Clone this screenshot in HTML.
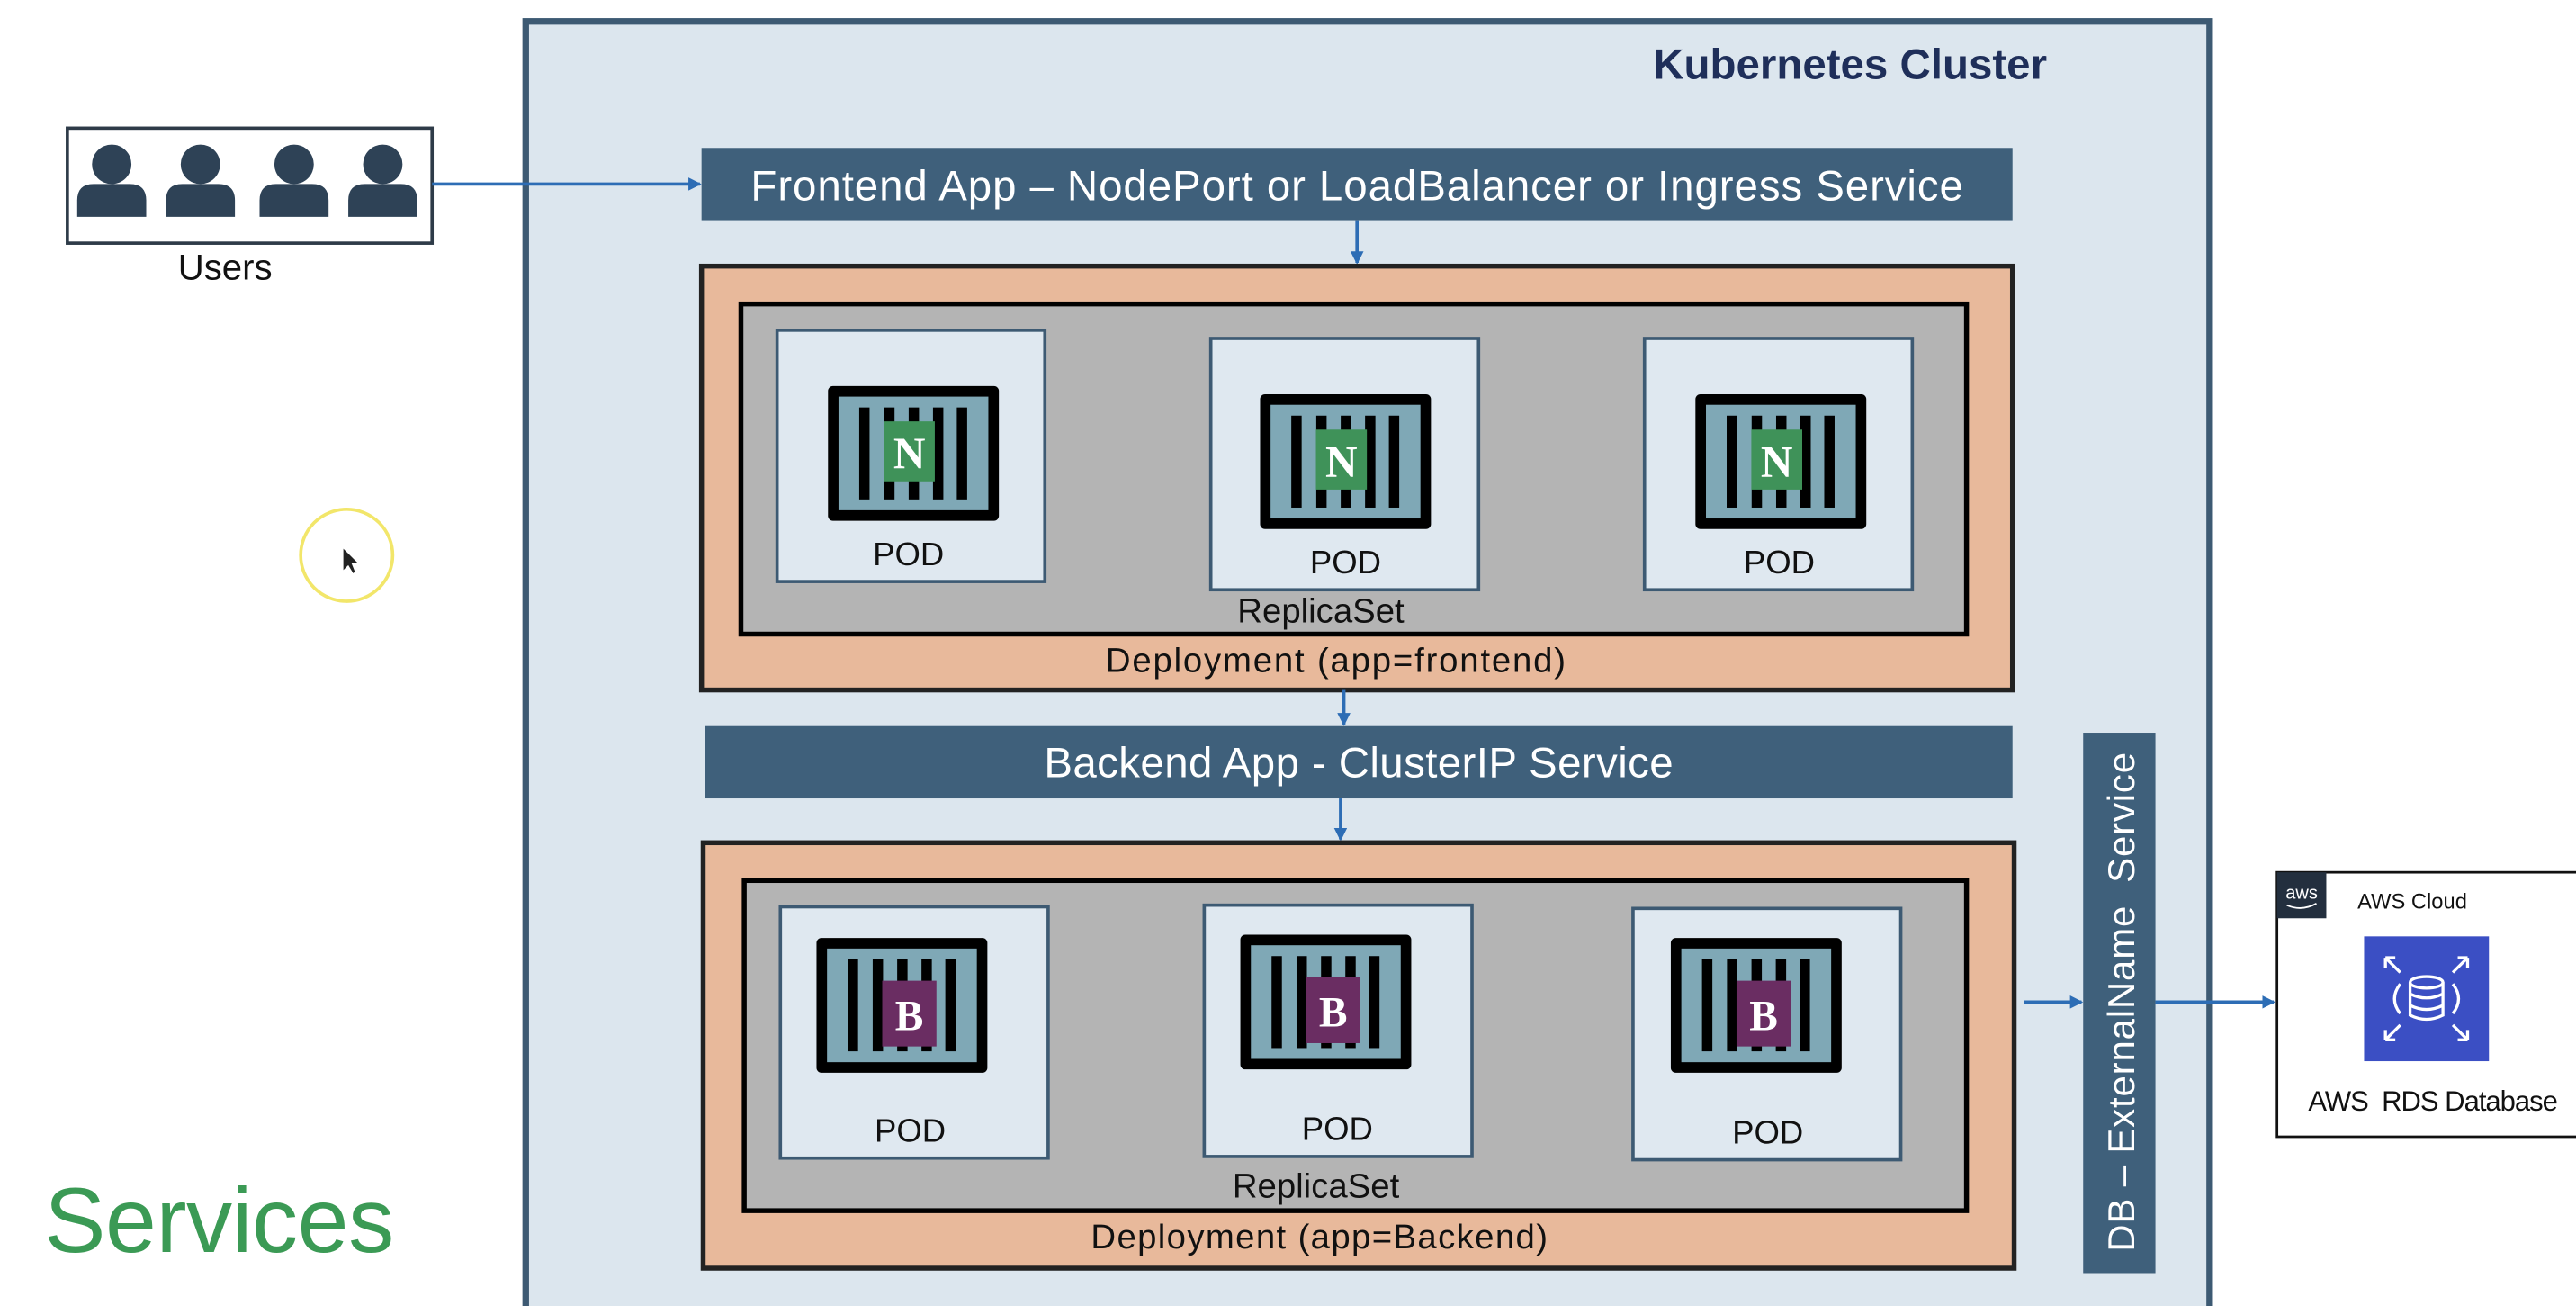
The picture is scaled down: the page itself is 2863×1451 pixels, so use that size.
<!DOCTYPE html>
<html><head><meta charset="utf-8"><style>
html,body{margin:0;padding:0;background:#fff;}
svg{display:block;}
text{font-family:"Liberation Sans",sans-serif;}
text.serif{font-family:"Liberation Serif",serif;}
</style></head><body>
<svg width="2863" height="1451" viewBox="0 0 1568 795" preserveAspectRatio="none" xmlns="http://www.w3.org/2000/svg">
<defs>
<g id="ctr">
<rect x="0" y="0" width="104" height="82" rx="3" fill="#000"/>
<rect x="6.4" y="6.4" width="91.2" height="69.2" fill="#7fa8b6"/>
<rect x="19" y="13" width="6.3" height="56" fill="#000"/>
<rect x="34.2" y="13" width="6.3" height="56" fill="#000"/>
<rect x="49.1" y="13" width="6.3" height="56" fill="#000"/>
<rect x="63.9" y="13" width="6.3" height="56" fill="#000"/>
<rect x="78.4" y="13" width="6.3" height="56" fill="#000"/>
</g>
<g id="person">
<circle cx="0" cy="-10" r="12" fill="#2e4256"/>
<path d="M-21 22 L-21 12 Q-21 2 -11 2 L11 2 Q21 2 21 12 L21 22 Z" fill="#2e4256"/>
</g>
<marker id="ar" markerWidth="8" markerHeight="8" refX="7" refY="4" orient="auto" markerUnits="userSpaceOnUse"><path d="M0 0 L8 4 L0 8 Z" fill="#2d6db5"/></marker>
</defs>

<rect x="320" y="13" width="1025" height="790" fill="#dce6ee" stroke="#3d5a73" stroke-width="4"/>
<text x="1246" y="48" text-anchor="end" font-size="26" font-weight="bold" fill="#1f2f5a">Kubernetes Cluster</text>

<rect x="41" y="78" width="222" height="70" fill="#fff" stroke="#2e3b48" stroke-width="2"/>
<use href="#person" x="68" y="110"/>
<use href="#person" x="122" y="110"/>
<use href="#person" x="179" y="110"/>
<use href="#person" x="233" y="110"/>
<text x="137" y="170" text-anchor="middle" font-size="22" fill="#111">Users</text>
<line x1="263" y1="112" x2="426" y2="112" stroke="#2d6db5" stroke-width="2" marker-end="url(#ar)"/>

<rect x="427" y="90" width="798" height="44" fill="#3f607b"/>
<text x="826" y="122" text-anchor="middle" font-size="26" fill="#fff" textLength="738">Frontend App – NodePort or LoadBalancer or Ingress Service</text>
<line x1="826" y1="134" x2="826" y2="160" stroke="#2d6db5" stroke-width="2" marker-end="url(#ar)"/>

<rect x="427" y="162" width="798" height="258" fill="#e8b99b" stroke="#222" stroke-width="3"/>
<rect x="451" y="185" width="746" height="201" fill="#b4b4b4" stroke="#000" stroke-width="3"/>
<rect x="473" y="201" width="163" height="153" fill="#dfe8f0" stroke="#3d5a73" stroke-width="2"/>
<rect x="737" y="206" width="163" height="153" fill="#dfe8f0" stroke="#3d5a73" stroke-width="2"/>
<rect x="1001" y="206" width="163" height="153" fill="#dfe8f0" stroke="#3d5a73" stroke-width="2"/>
<use href="#ctr" x="504" y="235"/>
<use href="#ctr" x="767" y="240"/>
<use href="#ctr" x="1032" y="240"/>
<rect x="538" y="256.5" width="31" height="36.5" fill="#3f9259"/>
<rect x="801" y="261.5" width="31" height="36.5" fill="#3f9259"/>
<rect x="1066" y="261.5" width="31" height="36.5" fill="#3f9259"/>
<g font-weight="bold" font-size="27" fill="#fff" text-anchor="middle">
<text class="serif" x="553.5" y="285">N</text><text class="serif" x="816.5" y="290">N</text><text class="serif" x="1081.5" y="290">N</text>
</g>
<g font-size="20" fill="#111" text-anchor="middle">
<text x="553" y="344">POD</text><text x="819" y="349">POD</text><text x="1083" y="349">POD</text>
<text x="804" y="379" font-size="21">ReplicaSet</text>
<text x="813" y="409" font-size="21" textLength="280">Deployment (app=frontend)</text>
</g>
<line x1="818" y1="420" x2="818" y2="441" stroke="#2d6db5" stroke-width="2" marker-end="url(#ar)"/>

<rect x="429" y="442" width="796" height="44" fill="#3f607b"/>
<text x="827" y="473" text-anchor="middle" font-size="26" fill="#fff" textLength="383">Backend App - ClusterIP Service</text>
<line x1="816" y1="486" x2="816" y2="511" stroke="#2d6db5" stroke-width="2" marker-end="url(#ar)"/>

<rect x="428" y="513" width="798" height="259" fill="#e8b99b" stroke="#222" stroke-width="3"/>
<rect x="453" y="536" width="744" height="201" fill="#b4b4b4" stroke="#000" stroke-width="3"/>
<rect x="475" y="552" width="163" height="153" fill="#dfe8f0" stroke="#3d5a73" stroke-width="2"/>
<rect x="733" y="551" width="163" height="153" fill="#dfe8f0" stroke="#3d5a73" stroke-width="2"/>
<rect x="994" y="553" width="163" height="153" fill="#dfe8f0" stroke="#3d5a73" stroke-width="2"/>
<use href="#ctr" x="497" y="571"/>
<use href="#ctr" x="755" y="569"/>
<use href="#ctr" x="1017" y="571"/>
<rect x="537" y="597" width="33" height="40" fill="#6a2d62"/>
<rect x="795" y="595" width="33" height="40" fill="#6a2d62"/>
<rect x="1057" y="597" width="33" height="40" fill="#6a2d62"/>
<g font-weight="bold" font-size="26" fill="#fff" text-anchor="middle">
<text class="serif" x="553.5" y="627">B</text><text class="serif" x="811.5" y="625">B</text><text class="serif" x="1073.5" y="627">B</text>
</g>
<g font-size="20" fill="#111" text-anchor="middle">
<text x="554" y="695">POD</text><text x="814" y="694">POD</text><text x="1076" y="696">POD</text>
<text x="801" y="729" font-size="21">ReplicaSet</text>
<text x="803" y="760" font-size="21" textLength="278">Deployment (app=Backend)</text>
</g>

<rect x="1268" y="446" width="44" height="329" fill="#3f607b"/>
<text transform="translate(1299,610) rotate(-90)" text-anchor="middle" font-size="23" fill="#fff" xml:space="preserve" textLength="304">DB – ExternalName  Service</text>
<line x1="1232" y1="610" x2="1267" y2="610" stroke="#2d6db5" stroke-width="2" marker-end="url(#ar)"/>
<line x1="1312" y1="610" x2="1384" y2="610" stroke="#2d6db5" stroke-width="2" marker-end="url(#ar)"/>

<rect x="1386" y="531" width="190" height="161" fill="#fff" stroke="#111" stroke-width="1.5"/>
<rect x="1386" y="531" width="30" height="28" fill="#232f3e"/>
<text x="1401" y="547" text-anchor="middle" font-size="11" fill="#fff">aws</text>
<path d="M1392 551 Q1401 555 1410 550" stroke="#fff" stroke-width="1" fill="none"/>
<text x="1435" y="553" font-size="13" fill="#111">AWS Cloud</text>
<rect x="1439" y="570" width="76" height="76" fill="#3b4fc4"/>
<g stroke="#fff" stroke-width="1.8" fill="none">
<ellipse cx="1477" cy="598" rx="10" ry="3.5"/>
<path d="M1467 598 V618 Q1477 623 1487 618 V598 M1467 605 Q1477 610 1487 605 M1467 612 Q1477 617 1487 612"/>
<path d="M1461 599 Q1454 608 1461 617 M1493 599 Q1500 608 1493 617"/>
<path d="M1452 583 L1461 592 M1452 583 h6 M1452 583 v6"/>
<path d="M1502 583 L1493 592 M1502 583 h-6 M1502 583 v6"/>
<path d="M1452 633 L1461 624 M1452 633 h6 M1452 633 v-6"/>
<path d="M1502 633 L1493 624 M1502 633 h-6 M1502 633 v-6"/>
</g>
<text x="1481" y="676" text-anchor="middle" font-size="17" fill="#111" xml:space="preserve" textLength="152">AWS  RDS Database</text>

<text x="27" y="762" font-size="56" fill="#3b9a55" textLength="213">Services</text>

<circle cx="211" cy="338" r="28" fill="none" stroke="#f2e66a" stroke-width="2"/>
<path d="M209 334 L209 347 L212 344 L215 349 L216 348 L214 343 L218 343 Z" fill="#222"/>
</svg>
</body></html>
